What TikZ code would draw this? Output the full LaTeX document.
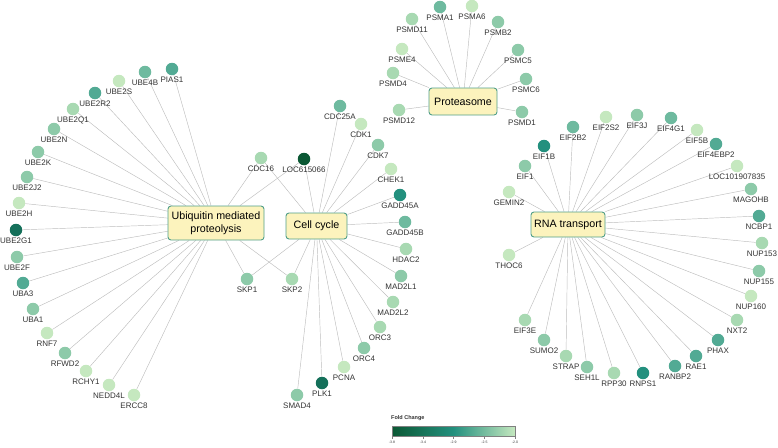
\documentclass[tikz,border=0pt]{standalone}
\usepackage{fontspec}
\setmainfont{Liberation Sans}
\usetikzlibrary{backgrounds}
\definecolor{fc0}{HTML}{0B5834}
\definecolor{fc1}{HTML}{15705A}
\definecolor{fc2}{HTML}{23907E}
\definecolor{fc3}{HTML}{52AA94}
\definecolor{fc4}{HTML}{6EBA9F}
\definecolor{fc5}{HTML}{8DCAA9}
\definecolor{fc6}{HTML}{A8D9B2}
\definecolor{fc7}{HTML}{C5E8BF}
\definecolor{hubfill}{HTML}{FCF3BD}
\definecolor{hubline}{HTML}{509E88}
\definecolor{edgegray}{HTML}{BDBDBD}
\definecolor{txtgray}{HTML}{333333}

\begin{document}
\begin{tikzpicture}[x=1pt,y=-1pt,
  gene/.style={circle,fill=#1,minimum size=12.5pt,inner sep=0pt,label distance=1.2pt},
  lbl/.style={font=\fontsize{8}{9}\selectfont,text=txtgray,inner sep=1pt},
  hub/.style={draw=hubline,fill=hubfill,rounded corners=3pt,line width=0.9pt,
    font=\fontsize{10.7}{13.5}\selectfont,align=center,inner sep=0pt},
  edge/.style={draw=edgegray,line width=0.45pt}]
\useasboundingbox (0,0) rectangle (778,447);

% pathway boxes
\node[hub,minimum width=96pt,minimum height=34pt] (ump) at (216,223) {Ubiquitin mediated\\proteolysis};
\node[hub,minimum width=61pt,minimum height=26pt] (cc) at (316.5,226) {Cell cycle};
\node[hub,minimum width=68pt,minimum height=27pt] (prot) at (463,101.5) {Proteasome};
\node[hub,minimum width=74pt,minimum height=25pt] (rna) at (568,224.5) {RNA transport};

% ubiquitin genes
\node[gene=fc3,label={[lbl]below:PIAS1}] (PIAS1) at (172,69) {};
\node[gene=fc4,label={[lbl]below:UBE4B}] (UBE4B) at (145,72) {};
\node[gene=fc7,label={[lbl]below:UBE2S}] (UBE2S) at (119,81) {};
\node[gene=fc3,label={[lbl]below:UBE2R2}] (UBE2R2) at (95,93) {};
\node[gene=fc6,label={[lbl]below:UBE2Q1}] (UBE2Q1) at (73,109) {};
\node[gene=fc5,label={[lbl]below:UBE2N}] (UBE2N) at (54,129) {};
\node[gene=fc5,label={[lbl]below:UBE2K}] (UBE2K) at (38,152) {};
\node[gene=fc5,label={[lbl]below:UBE2J2}] (UBE2J2) at (27,177) {};
\node[gene=fc7,label={[lbl]below:UBE2H}] (UBE2H) at (19,203) {};
\node[gene=fc1,label={[lbl]below:UBE2G1}] (UBE2G1) at (16,230) {};
\node[gene=fc5,label={[lbl]below:UBE2F}] (UBE2F) at (17,257) {};
\node[gene=fc3,label={[lbl]below:UBA3}] (UBA3) at (23,283) {};
\node[gene=fc5,label={[lbl]below:UBA1}] (UBA1) at (33,309) {};
\node[gene=fc7,label={[lbl]below:RNF7}] (RNF7) at (47,333) {};
\node[gene=fc5,label={[lbl]below:RFWD2}] (RFWD2) at (65,353) {};
\node[gene=fc7,label={[lbl]below:RCHY1}] (RCHY1) at (86,371) {};
\node[gene=fc7,label={[lbl]below:NEDD4L}] (NEDD4L) at (109,385) {};
\node[gene=fc7,label={[lbl]below:ERCC8}] (ERCC8) at (134,395) {};

% shared genes
\node[gene=fc5,label={[lbl]below:SKP1}] (SKP1) at (247,279) {};
\node[gene=fc6,label={[lbl]below:SKP2}] (SKP2) at (292,279) {};
\node[gene=fc6,label={[lbl]below:CDC16}] (CDC16) at (261,158) {};
\node[gene=fc0,label={[lbl]below:LOC615066}] (LOC615066) at (304,159) {};

% cell cycle genes
\node[gene=fc4,label={[lbl]below:CDC25A}] (CDC25A) at (340,106) {};
\node[gene=fc7,label={[lbl]below:CDK1}] (CDK1) at (361,124) {};
\node[gene=fc5,label={[lbl]below:CDK7}] (CDK7) at (378,145) {};
\node[gene=fc7,label={[lbl]below:CHEK1}] (CHEK1) at (391,169) {};
\node[gene=fc2,label={[lbl]below:GADD45A}] (GADD45A) at (400,195) {};
\node[gene=fc4,label={[lbl]below:GADD45B}] (GADD45B) at (405,222) {};
\node[gene=fc6,label={[lbl]below:HDAC2}] (HDAC2) at (406,249) {};
\node[gene=fc5,label={[lbl]below:MAD2L1}] (MAD2L1) at (401,276) {};
\node[gene=fc6,label={[lbl]below:MAD2L2}] (MAD2L2) at (393,302) {};
\node[gene=fc6,label={[lbl]below:ORC3}] (ORC3) at (380,327) {};
\node[gene=fc5,label={[lbl]below:ORC4}] (ORC4) at (364,348) {};
\node[gene=fc7,label={[lbl]below:PCNA}] (PCNA) at (344,367) {};
\node[gene=fc1,label={[lbl]below:PLK1}] (PLK1) at (322,383) {};
\node[gene=fc5,label={[lbl]below:SMAD4}] (SMAD4) at (297,395) {};

% proteasome genes
\node[gene=fc6,label={[lbl]below:PSMD11}] (PSMD11) at (412,19) {};
\node[gene=fc4,label={[lbl]below:PSMA1}] (PSMA1) at (440,7) {};
\node[gene=fc7,label={[lbl]below:PSMA6}] (PSMA6) at (472,6) {};
\node[gene=fc5,label={[lbl]below:PSMB2}] (PSMB2) at (498,22) {};
\node[gene=fc5,label={[lbl]below:PSMC5}] (PSMC5) at (518,50) {};
\node[gene=fc5,label={[lbl]below:PSMC6}] (PSMC6) at (526,79) {};
\node[gene=fc5,label={[lbl]below:PSMD1}] (PSMD1) at (522,112) {};
\node[gene=fc6,label={[lbl]below:PSMD12}] (PSMD12) at (399,110) {};
\node[gene=fc6,label={[lbl]below:PSMD4}] (PSMD4) at (393,73) {};
\node[gene=fc7,label={[lbl]below:PSME4}] (PSME4) at (402,49) {};

% rna transport genes
\node[gene=fc7,label={[lbl]below:GEMIN2}] (GEMIN2) at (509,192) {};
\node[gene=fc5,label={[lbl]below:EIF1}] (EIF1) at (525,166) {};
\node[gene=fc2,label={[lbl]below:EIF1B}] (EIF1B) at (544,146) {};
\node[gene=fc4,label={[lbl]below:EIF2B2}] (EIF2B2) at (573,127) {};
\node[gene=fc7,label={[lbl]below:EIF2S2}] (EIF2S2) at (606,117) {};
\node[gene=fc5,label={[lbl]below:EIF3J}] (EIF3J) at (637,115) {};
\node[gene=fc4,label={[lbl]below:EIF4G1}] (EIF4G1) at (671,118) {};
\node[gene=fc7,label={[lbl]below:EIF5B}] (EIF5B) at (697,130) {};
\node[gene=fc3,label={[lbl]below:EIF4EBP2}] (EIF4EBP2) at (716,144) {};
\node[gene=fc7,label={[lbl]below:LOC101907835}] (LOC101907835) at (737,166) {};
\node[gene=fc5,label={[lbl]below:MAGOHB}] (MAGOHB) at (751,189) {};
\node[gene=fc3,label={[lbl]below:NCBP1}] (NCBP1) at (759,216) {};
\node[gene=fc6,label={[lbl]below:NUP153}] (NUP153) at (762,243) {};
\node[gene=fc5,label={[lbl]below:NUP155}] (NUP155) at (759,271) {};
\node[gene=fc7,label={[lbl]below:NUP160}] (NUP160) at (751,296) {};
\node[gene=fc6,label={[lbl]below:NXT2}] (NXT2) at (737,320) {};
\node[gene=fc3,label={[lbl]below:PHAX}] (PHAX) at (718,340) {};
\node[gene=fc3,label={[lbl]below:RAE1}] (RAE1) at (696,356) {};
\node[gene=fc3,label={[lbl]below:RANBP2}] (RANBP2) at (675,366) {};
\node[gene=fc2,label={[lbl]below:RNPS1}] (RNPS1) at (643,373) {};
\node[gene=fc6,label={[lbl]below:RPP30}] (RPP30) at (614,373) {};
\node[gene=fc5,label={[lbl]below:SEH1L}] (SEH1L) at (587,367) {};
\node[gene=fc6,label={[lbl]below:STRAP}] (STRAP) at (566,356) {};
\node[gene=fc5,label={[lbl]below:SUMO2}] (SUMO2) at (544,340) {};
\node[gene=fc6,label={[lbl]below:EIF3E}] (EIF3E) at (525,320) {};
\node[gene=fc7,label={[lbl]below:THOC6}] (THOC6) at (509,255) {};

\begin{scope}[on background layer]
\draw[edge] (ump)--(PIAS1) (ump)--(UBE4B) (ump)--(UBE2S) (ump)--(UBE2R2) (ump)--(UBE2Q1);
\draw[edge] (ump)--(UBE2N) (ump)--(UBE2K) (ump)--(UBE2J2) (ump)--(UBE2H) (ump)--(UBE2G1);
\draw[edge] (ump)--(UBE2F) (ump)--(UBA3) (ump)--(UBA1) (ump)--(RNF7) (ump)--(RFWD2);
\draw[edge] (ump)--(RCHY1) (ump)--(NEDD4L) (ump)--(ERCC8);
\draw[edge] (ump)--(SKP1) (ump)--(SKP2) (ump)--(CDC16) (ump)--(LOC615066);
\draw[edge] (cc)--(SKP1) (cc)--(SKP2) (cc)--(CDC16) (cc)--(LOC615066);
\draw[edge] (cc)--(CDC25A) (cc)--(CDK1) (cc)--(CDK7) (cc)--(CHEK1) (cc)--(GADD45A);
\draw[edge] (cc)--(GADD45B) (cc)--(HDAC2) (cc)--(MAD2L1) (cc)--(MAD2L2) (cc)--(ORC3);
\draw[edge] (cc)--(ORC4) (cc)--(PCNA) (cc)--(PLK1) (cc)--(SMAD4);
\draw[edge] (prot)--(PSMD11) (prot)--(PSMA1) (prot)--(PSMA6) (prot)--(PSMB2) (prot)--(PSMC5);
\draw[edge] (prot)--(PSMC6) (prot)--(PSMD1) (prot)--(PSMD12) (prot)--(PSMD4) (prot)--(PSME4);
\draw[edge] (rna)--(GEMIN2) (rna)--(EIF1) (rna)--(EIF1B) (rna)--(EIF2B2) (rna)--(EIF2S2);
\draw[edge] (rna)--(EIF3J) (rna)--(EIF4G1) (rna)--(EIF5B) (rna)--(EIF4EBP2) (rna)--(LOC101907835);
\draw[edge] (rna)--(MAGOHB) (rna)--(NCBP1) (rna)--(NUP153) (rna)--(NUP155) (rna)--(NUP160);
\draw[edge] (rna)--(NXT2) (rna)--(PHAX) (rna)--(RAE1) (rna)--(RANBP2) (rna)--(RNPS1);
\draw[edge] (rna)--(RPP30) (rna)--(SEH1L) (rna)--(STRAP) (rna)--(SUMO2) (rna)--(EIF3E);
\draw[edge] (rna)--(THOC6);
\end{scope}

% legend
\node[anchor=west,font=\bfseries\fontsize{5.5}{6}\selectfont,text=txtgray,inner sep=0pt] (fctitle) at (391,418) {Fold Change};
\node[draw=gray,line width=0.5pt,minimum width=123pt,minimum height=10pt,inner sep=0pt,
  left color=fc0,right color=fc7,middle color=fc2] (fcbar) at (453.5,431) {};
\draw[gray,line width=0.4pt] (392,436)--(392,438.5) (423,436)--(423,438.5) (453.5,436)--(453.5,438.5)
  (484.5,436)--(484.5,438.5) (515,436)--(515,438.5);
\node[font=\fontsize{3.5}{4}\selectfont,text=txtgray,inner sep=0pt] (t1) at (392,442) {-3.8};
\node[font=\fontsize{3.5}{4}\selectfont,text=txtgray,inner sep=0pt] (t2) at (423,442) {-3.4};
\node[font=\fontsize{3.5}{4}\selectfont,text=txtgray,inner sep=0pt] (t3) at (453.5,442) {-2.9};
\node[font=\fontsize{3.5}{4}\selectfont,text=txtgray,inner sep=0pt] (t4) at (484.5,442) {-2.5};
\node[font=\fontsize{3.5}{4}\selectfont,text=txtgray,inner sep=0pt] (t5) at (515,442) {-2.0};
\end{tikzpicture}
\end{document}
